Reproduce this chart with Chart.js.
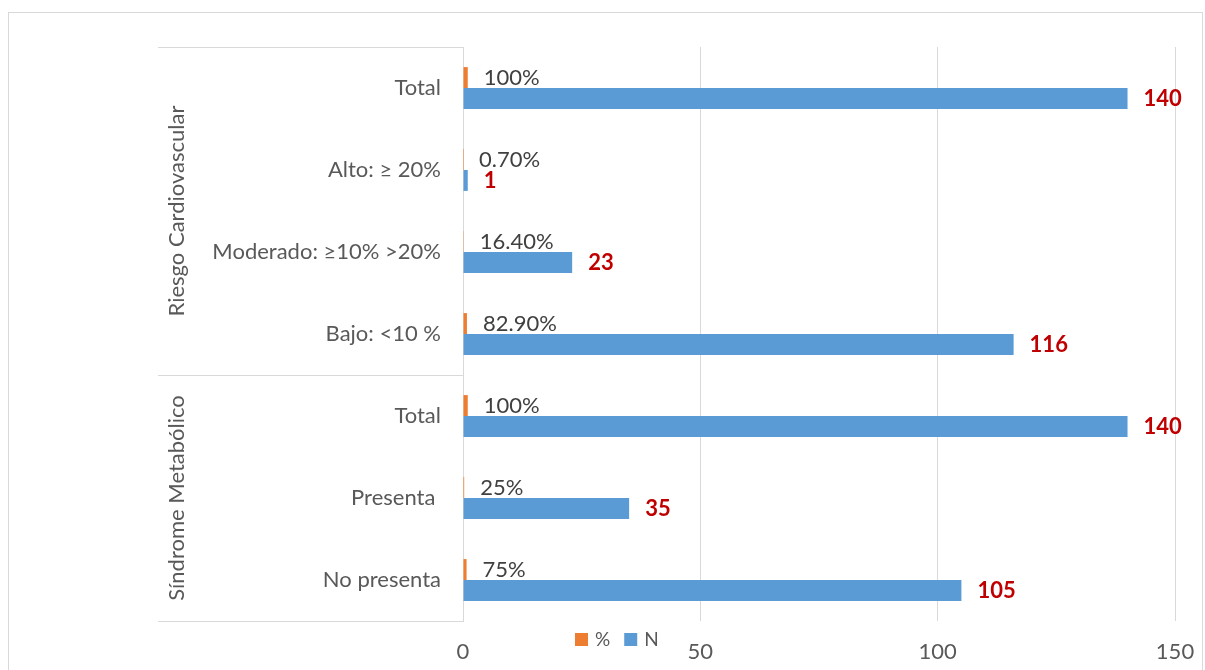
<!DOCTYPE html>
<html>
<head>
    <title>Riesgo Cardiovascular y Síndrome Metabólico</title>
    <script src="https://cdn.jsdelivr.net/npm/chart.js"></script>
    <style>
        body {
            margin: 0;
            background: #ffffff;
        }
        canvas {
            display: block;
        }
    </style>
</head>
<body>
    <canvas id="riskChart" width="1205" height="670"></canvas>

    <script>
        // data
        const categories = ['Total', 'Alto: ≥ 20%', 'Moderado: ≥10% >20%', 'Bajo: <10 %', 'Total', 'Presenta ', 'No presenta'];
        const pctValues = [1, 0.007, 0.164, 0.829, 1, 0.25, 0.75];
        const pctLabels = ['100%', '0.70%', '16.40%', '82.90%', '100%', '25%', '75%'];
        const nValues = [140, 1, 23, 116, 140, 35, 105];
        const nLabels = ['140', '1', '23', '116', '140', '35', '105'];
        const groupNames = ['Riesgo Cardiovascular', 'Síndrome Metabólico'];
        const groupFirst = [0, 4];
        const groupLast = [3, 6];
        const seriesNames = ['%', 'N'];
        const xMin = 0;
        const xMax = 150;
        const xStep = 50;

        const FONT = 'Lato, "Open Sans", sans-serif';
        const gray = '#595959';
        const lineColor = '#D9D9D9';

        // value labels to the right of each bar
        const barLabels = {
            id: 'barLabels',
            afterDatasetsDraw(chart) {
                const ctx = chart.ctx;
                const texts = [pctLabels, nLabels];
                ctx.save();
                ctx.textBaseline = 'middle';
                ctx.textAlign = 'left';
                chart.data.datasets.forEach((ds, di) => {
                    const meta = chart.getDatasetMeta(di);
                    ctx.font = di === 0 ? '22px ' + FONT : 'bold 22px ' + FONT;
                    ctx.fillStyle = di === 0 ? '#404040' : '#C00000';
                    meta.data.forEach((bar, i) => {
                        ctx.fillText(texts[di][i], bar.x + 16, bar.y);
                    });
                });
                ctx.restore();
            }
        };

        // multi-level category axis: group lines and rotated group names
        const groupAxis = {
            id: 'groupAxis',
            afterDraw(chart) {
                const ctx = chart.ctx;
                const y = chart.scales.y;
                const area = chart.chartArea;
                const half = (y.getPixelForTick(1) - y.getPixelForTick(0)) / 2;
                ctx.save();
                ctx.strokeStyle = lineColor;
                ctx.lineWidth = 1;
                ctx.fillStyle = gray;
                ctx.font = '22px ' + FONT;
                ctx.textAlign = 'center';
                ctx.textBaseline = 'middle';
                groupNames.forEach((name, g) => {
                    const top = y.getPixelForTick(groupFirst[g]) - half;
                    const bottom = y.getPixelForTick(groupLast[g]) + half;
                    [top, bottom].forEach(py => {
                        ctx.beginPath();
                        ctx.moveTo(158, Math.round(py) + 0.5);
                        ctx.lineTo(area.left, Math.round(py) + 0.5);
                        ctx.stroke();
                    });
                    ctx.save();
                    ctx.translate(177, (top + bottom) / 2);
                    ctx.rotate(-Math.PI / 2);
                    ctx.fillText(name, 0, 0);
                    ctx.restore();
                });

                // outer chart border
                ctx.strokeRect(8.5, 12.5, 1194, 680);

                // legend
                ctx.font = '19px ' + FONT;
                ctx.textAlign = 'left';
                let lx = 575;
                chart.data.datasets.forEach(ds => {
                    ctx.fillStyle = ds.backgroundColor;
                    ctx.fillRect(lx, 633, 13, 13);
                    ctx.fillStyle = gray;
                    ctx.fillText(ds.label, lx + 20, 640);
                    lx += 20 + ctx.measureText(ds.label).width + 14;
                });
                ctx.restore();
            }
        };

        const ctx = document.getElementById('riskChart').getContext('2d');
        new Chart(ctx, {
            type: 'bar',
            data: {
                labels: categories,
                datasets: [{
                    label: seriesNames[0],
                    data: pctValues,
                    backgroundColor: '#ED7D31'
                }, {
                    label: seriesNames[1],
                    data: nValues,
                    backgroundColor: '#5B9BD5'
                }]
            },
            options: {
                indexAxis: 'y',
                responsive: false,
                animation: false,
                barPercentage: 1,
                categoryPercentage: 0.51,
                layout: {
                    padding: { top: 47, right: 30, left: 0, bottom: 0 }
                },
                plugins: {
                    legend: { display: false },
                    tooltip: { enabled: false }
                },
                scales: {
                    x: {
                        min: xMin,
                        max: xMax,
                        ticks: {
                            stepSize: xStep,
                            color: gray,
                            font: { family: FONT, size: 22 },
                            padding: 18
                        },
                        grid: {
                            color: lineColor,
                            drawTicks: false
                        },
                        border: { display: false },
                        afterFit(scale) {
                            scale.height = 49;
                            // let the 150 label hang into the right margin
                            scale.paddingLeft = 0;
                            scale.paddingRight = 0;
                        }
                    },
                    y: {
                        ticks: {
                            color: gray,
                            font: { family: FONT, size: 22 },
                            padding: 22
                        },
                        grid: {
                            display: false,
                            drawTicks: false
                        },
                        border: { display: true, color: lineColor },
                        afterFit(scale) {
                            scale.width = 463;
                        }
                    }
                }
            },
            plugins: [barLabels, groupAxis]
        });
    </script>
</body>
</html>
